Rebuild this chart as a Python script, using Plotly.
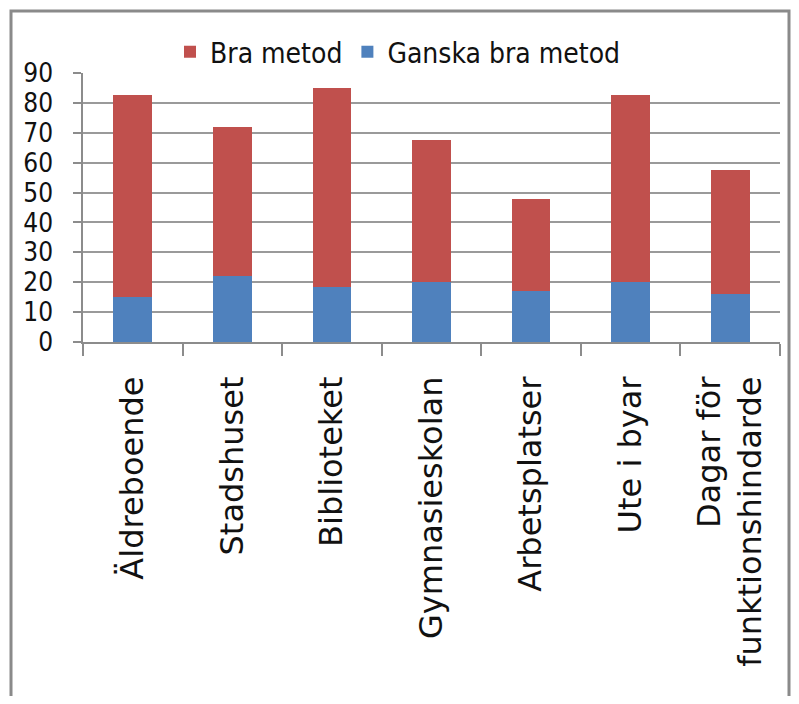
import plotly.graph_objects as go

categories = ["Äldreboende", "Stadshuset", "Biblioteket", "Gymnasieskolan",
              "Arbetsplatser", "Ute i byar", "Dagar för<br>funktionshindarde"]
ganska_bra = [15, 22, 18.5, 20, 17, 20, 16]
totals = [82.5, 72, 85, 67.5, 48, 82.5, 57.7]
bra = [round(t - g, 1) for t, g in zip(totals, ganska_bra)]
y_ticks = list(range(0, 91, 10))

OFF = 8  # page body margin
W, H = 799 - 2 * OFF, 704 - 2 * OFF
L, T = 83 - OFF, 73 - OFF
R = W - (780 - OFF)
B = H - (342.5 - OFF)
pw, ph = W - L - R, H - T - B

narrow = "Liberation Sans Narrow, DejaVu Sans Condensed, Arial Narrow, sans-serif"

fig = go.Figure()
fig.add_trace(go.Bar(x=categories, y=ganska_bra, name="Ganska bra metod",
                     marker=dict(color="#4F81BD", line=dict(width=0))))
fig.add_trace(go.Bar(x=categories, y=bra, name="Bra metod",
                     marker=dict(color="#C0504D", line=dict(width=0))))

def px_x(p):
    return (p - OFF - L) / pw

def px_y(p):
    return (H - B - (p - OFF)) / ph

fig.add_shape(type="rect", xref="paper", yref="paper",
              x0=px_x(11), x1=px_x(789), y0=px_y(730), y1=px_y(11),
              line=dict(color="#8a8a8a", width=3), fillcolor="rgba(0,0,0,0)")

fig.update_layout(
    width=W, height=H,
    margin=dict(l=L, r=R, t=T, b=B, autoexpand=False),
    barmode="stack",
    bargap=0.61,
    plot_bgcolor="white",
    paper_bgcolor="white",
    showlegend=True,
    legend=dict(orientation="h", traceorder="reversed",
                x=px_x(398), xanchor="center", y=px_y(52), yanchor="middle",
                font=dict(family=narrow, size=28, color="#111111"),
                itemsizing="constant"),
    xaxis=dict(showline=True, linecolor="#8c8c8c", linewidth=1.5, automargin=False,
               ticks="outside", tickson="boundaries", ticklen=12,
               tickcolor="#8c8c8c", tickwidth=1.5, tickangle=-90,
               ticklabelstandoff=20,
               tickfont=dict(family="DejaVu Sans, sans-serif", size=32, color="#111111"),
               showgrid=False),
    yaxis=dict(range=[0, 90], tickvals=y_ticks, showline=True, linecolor="#8c8c8c",
               linewidth=1.5, ticks="outside", ticklen=8, tickcolor="#8c8c8c",
               automargin=False,
               tickwidth=1.5, showgrid=True, gridcolor="#9a9a9a", gridwidth=1.5,
               zeroline=False, ticklabelstandoff=15,
               tickfont=dict(family=narrow, size=26, color="#111111")),
)

fig.write_html("out.html")
